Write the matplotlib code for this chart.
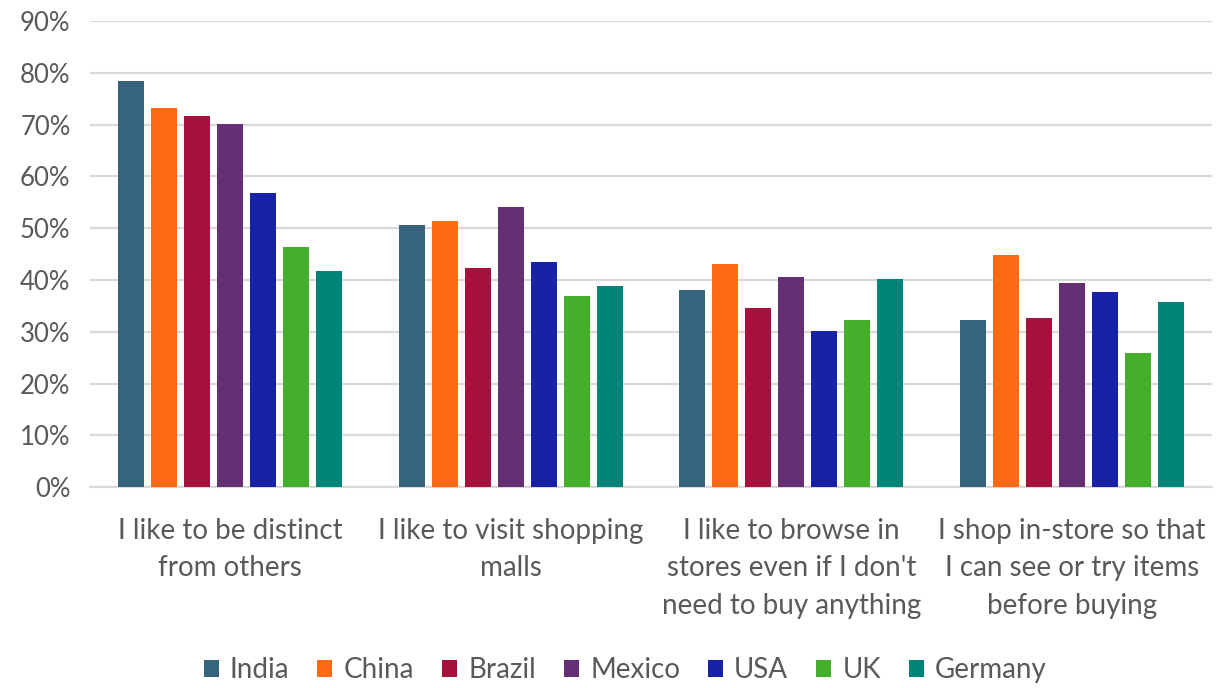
import matplotlib
matplotlib.use("Agg")
import matplotlib.pyplot as plt
import numpy as np

plt.rcParams['font.family'] = ['Lato', 'DejaVu Sans']

categorias = ["I like to be distinct\nfrom others",
              "I like to visit shopping\nmalls",
              "I like to browse in\nstores even if I don't\nneed to buy anything",
              "I shop in-store so that\nI can see or try items\nbefore buying"]

paises = ["India", "China", "Brazil", "Mexico", "USA", "UK", "Germany"]

india = [78.5, 50.7, 38.1, 32.3]
china = [73.2, 51.3, 43.1, 44.9]
brazil = [71.7, 42.4, 34.6, 32.6]
mexico = [70.2, 54.0, 40.6, 39.4]
usa = [56.7, 43.5, 30.2, 37.7]
uk = [46.4, 36.9, 32.3, 25.9]
germany = [41.8, 38.8, 40.2, 35.7]

series = [india, china, brazil, mexico, usa, uk, germany]
colores = ["#36647C", "#FF6A13", "#A6103C", "#662F74", "#1722A8", "#43AF2A", "#00847A"]

texto = "#595959"

fig = plt.figure(figsize=(12.21, 6.88), dpi=100)
ax = fig.add_axes([0.0737, 0.292, 0.919, 0.6775])

x = np.arange(len(categorias))
paso = 0.1176
ancho = 0.0926
for i, (vals, col) in enumerate(zip(series, colores)):
    ax.bar(x + (i - 3) * paso, vals, ancho, color=col, label=paises[i], zorder=3)

ax.set_xlim(-0.5, 3.5)
ax.set_ylim(0, 90)
ax.set_yticks(range(0, 91, 10))
ax.set_yticklabels([f"{v}%" for v in range(0, 91, 10)])
ax.yaxis.grid(True, color="#d9d9d9", linewidth=1.6, zorder=0)
ax.set_axisbelow(True)

for s in ["top", "right", "left"]:
    ax.spines[s].set_visible(False)
ax.spines["bottom"].set_color("#d9d9d9")
ax.spines["bottom"].set_linewidth(1.6)

ax.set_xticks(x)
ax.set_xticklabels(categorias, linespacing=1.55)
ax.tick_params(axis="both", length=0, colors=texto)
ax.tick_params(axis="x", labelsize=20, pad=22)
ax.tick_params(axis="y", labelsize=18.5, pad=14)

fig.legend(loc="center", bbox_to_anchor=(0.512, 1 - 670 / 688), ncol=7, frameon=False,
           fontsize=20, labelcolor=texto, handlelength=0.55, handleheight=0.55,
           handletextpad=0.4, columnspacing=1.0)

fig.savefig("out.png", dpi=100)
